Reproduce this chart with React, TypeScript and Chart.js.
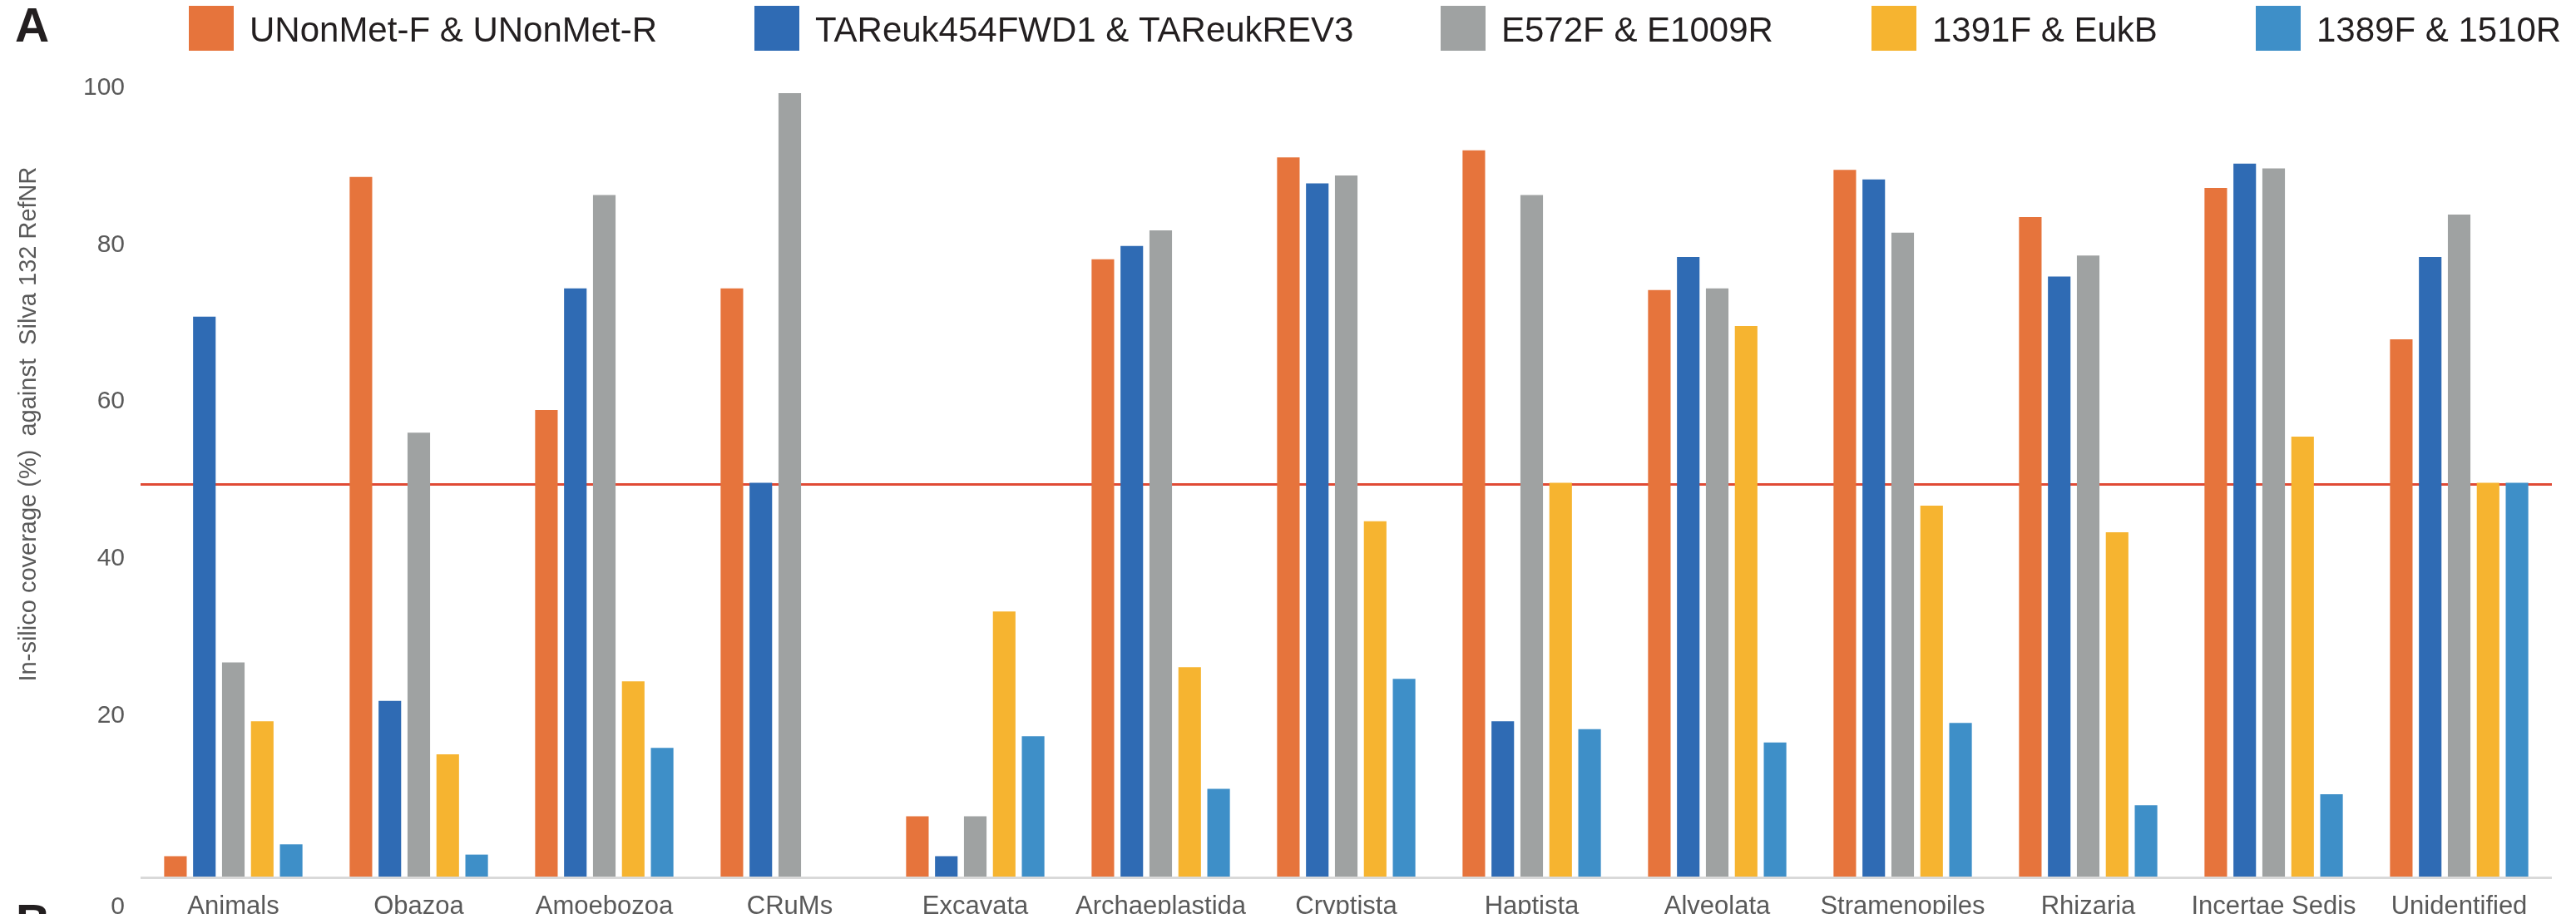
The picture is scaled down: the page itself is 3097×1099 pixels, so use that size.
import React, { useEffect, useRef } from 'react';
import { Chart, registerables } from 'chart.js';

Chart.register(...registerables);

// Taxonomic groups along the x axis
const categories = [
  'Animals',
  'Obazoa',
  'Amoebozoa',
  'CRuMs',
  'Excavata',
  'Archaeplastida',
  'Cryptista',
  'Haptista',
  'Alveolata',
  'Stramenopiles',
  'Rhizaria',
  'Incertae Sedis',
  'Unidentified',
];

// Primer pairs (series names) and their colours
const seriesNames = [
  'UNonMet-F & UNonMet-R',
  'TAReuk454FWD1 & TAReukREV3',
  'E572F & E1009R',
  '1391F & EukB',
  '1389F & 1510R',
];
const seriesColors = ['#e6743c', '#2f6bb4', '#9fa2a2', '#f6b430', '#3e8fc8'];

// In-silico coverage (%) per primer pair
const uNonMet = [2.6, 89.2, 59.5, 75.0, 7.7, 78.7, 91.7, 92.6, 74.8, 90.1, 84.1, 87.8, 68.5];
const tAReuk = [71.4, 22.4, 75.0, 50.2, 2.6, 80.4, 88.4, 19.8, 79.0, 88.9, 76.5, 90.9, 79.0];
const e572f = [27.3, 56.6, 86.9, 99.9, 7.7, 82.4, 89.4, 86.9, 75.0, 82.1, 79.2, 90.3, 84.4];
const f1391 = [19.8, 15.6, 24.9, 0, 33.8, 26.7, 45.3, 50.2, 70.2, 47.3, 43.9, 56.1, 50.2];
const f1389 = [4.1, 2.8, 16.4, 0, 17.9, 11.2, 25.2, 18.8, 17.1, 19.6, 9.1, 10.5, 50.2];

const seriesValues = [uNonMet, tAReuk, e572f, f1391, f1389];

// Axis ticks, reference line and labels
const yTicks = [0, 20, 40, 60, 80, 100];
const threshold = 50;
const yTitle = 'In-silico coverage (%)  against  Silva 132 RefNR';
const panelA = 'A';
const panelB = 'B';

const FONT = '"Liberation Sans", Arial, Helvetica, sans-serif';
const LABEL_GREY = '#595959';
const INK = '#231f20';

// left edge of each legend swatch
const LEGEND_X = [227, 907, 1732, 2250, 2712];

const decorations = {
  id: 'decorations',
  beforeDatasetsDraw(chart: any) {
    const { ctx, chartArea } = chart;
    const y = chart.scales.y.getPixelForValue(threshold);
    ctx.save();
    ctx.strokeStyle = '#e04a35';
    ctx.lineWidth = 3;
    ctx.beginPath();
    ctx.moveTo(chartArea.left, y);
    ctx.lineTo(chartArea.right, y);
    ctx.stroke();
    ctx.restore();
  },
  afterDatasetsDraw(chart: any) {
    const { ctx, chartArea } = chart;
    // category axis line
    ctx.save();
    ctx.fillStyle = '#d9d9d9';
    ctx.fillRect(chartArea.left, chartArea.bottom, chartArea.right - chartArea.left, 3);
    ctx.restore();
  },
  afterDraw(chart: any) {
    const { ctx, chartArea } = chart;
    const xScale = chart.scales.x;
    const yScale = chart.scales.y;
    const labelBaseline = chartArea.bottom + 45;

    ctx.save();

    // y tick labels
    ctx.font = `30px ${FONT}`;
    ctx.fillStyle = LABEL_GREY;
    ctx.textAlign = 'right';
    yTicks.forEach((v) => {
      if (v === 0) {
        ctx.textBaseline = 'alphabetic';
        ctx.fillText(String(v), chartArea.left - 19, labelBaseline);
      } else {
        ctx.textBaseline = 'middle';
        ctx.fillText(String(v), chartArea.left - 19, yScale.getPixelForValue(v) - 5);
      }
    });

    // category labels
    ctx.font = `31px ${FONT}`;
    ctx.textAlign = 'center';
    ctx.textBaseline = 'alphabetic';
    categories.forEach((c, i) => {
      ctx.fillText(c, xScale.getPixelForValue(i), labelBaseline);
    });

    // y axis title
    ctx.save();
    ctx.font = `29px ${FONT}`;
    ctx.fillStyle = LABEL_GREY;
    ctx.translate(43, 510);
    ctx.rotate(-Math.PI / 2);
    ctx.textAlign = 'center';
    ctx.textBaseline = 'alphabetic';
    ctx.fillText(yTitle, 0, 0);
    ctx.restore();

    // legend
    ctx.font = `42px ${FONT}`;
    ctx.textAlign = 'left';
    ctx.textBaseline = 'alphabetic';
    chart.data.datasets.forEach((ds: any, k: number) => {
      const x = LEGEND_X[k];
      ctx.fillStyle = ds.backgroundColor;
      ctx.fillRect(x, 7, 54, 54);
      ctx.fillStyle = INK;
      ctx.fillText(ds.label, x + 73, 50);
    });

    // panel letters
    ctx.font = `bold 57px ${FONT}`;
    ctx.fillStyle = INK;
    ctx.fillText(panelA, 18, 50);
    ctx.fillText(panelB, 19, 1128);

    ctx.restore();
  },
};

export default function App() {
  const canvasRef = useRef<HTMLCanvasElement | null>(null);

  useEffect(() => {
    const canvas = canvasRef.current;
    if (!canvas) return;
    const chart = new Chart(canvas, {
      type: 'bar',
      data: {
        labels: categories,
        datasets: seriesNames.map((name, k) => ({
          label: name,
          data: seriesValues[k],
          backgroundColor: seriesColors[k],
          borderWidth: 0,
          categoryPercentage: 0.78,
          barPercentage: 0.78,
        })),
      },
      options: {
        responsive: false,
        devicePixelRatio: 1,
        animation: false,
        layout: { padding: { left: 169, right: 29, top: 111, bottom: 45 } },
        plugins: {
          legend: { display: false },
          tooltip: { enabled: false },
          title: { display: false },
        },
        scales: {
          x: { display: false },
          y: { display: false, min: 0, max: 100 },
        },
      },
      plugins: [decorations],
    });
    return () => chart.destroy();
  }, []);

  return (
    <div style={{ position: 'absolute', left: 0, top: 0, width: 3097, height: 1099, background: '#ffffff' }}>
      <canvas ref={canvasRef} width={3097} height={1099} style={{ display: 'block' }} />
    </div>
  );
}
